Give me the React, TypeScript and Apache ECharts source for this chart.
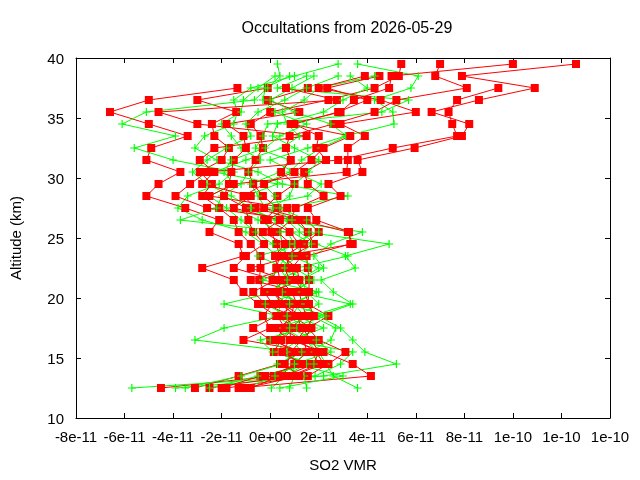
import { useEffect, useRef } from "react";
import * as echarts from "echarts";

// Altitude levels (km)
const ALTITUDES = [
  12.5, 13.5, 14.5, 15.5, 16.5, 17.5, 18.5, 19.5, 20.5, 21.5, 22.5, 23.5, 24.5, 25.5,
  26.5, 27.5, 28.5, 29.5, 30.5, 31.5, 32.5, 33.5, 34.5, 35.5, 36.5, 37.5, 38.5, 39.5,
];

// SO2 VMR values in units of 1e-11, one entry per altitude above (null = no point)
const R1 = [-4.5, 0.15, 1.0, 0.85, 1.3, 0.45, 0.85, 1.0, 0.6, 0.1, 0.25, 0.4, 0.25, 0.05, -0.25, 0.3, -0.3, -0.7, -0.9, -0.6, -0.3, -0.4, -0.8, 0, 2.4, 4.3, 5.3, 5.4];
const R2 = [-3.1, -1.3, 0.4, 1.3, 0, -0.7, 0.25, -0.5, -1.1, -1.5, -2.8, -1.1, -1.3, -2.5, -2.1, -3.5, -5.1, -4.6, -3.7, -5.1, -4.9, -3.4, -5.0, -6.6, -5.0, -1.35, null, null];
const R3 = [-2.5, 0.85, 2.0, 1.7, -1.1, 0, -0.3, 0.1, -0.25, -0.45, -0.4, -0.4, -0.8, -1.3, -1.5, -2.1, -2.8, -2.4, -2.9, -2.0, -1.7, -2.3, -2.4, -1.4, -3.0, -0.1, null, null];
const R4 = [-2.0, -0.4, 1.6, 0.15, 0.45, 1.0, 0.6, 0.75, 0.05, 0.6, -0.8, 1.0, 0.85, 0.3, 0.85, 1.05, 2.2, 1.55, 1.4, 2.3, 1.9, 2.0, 1.0, 2.8, 4.0, 2.35, 4.5, null];
const R5 = [-1.8, 1.55, 2.4, 3.1, 2.0, 1.55, 2.4, 1.55, 1.6, 1.6, 1.55, 1.5, 3.3, 3.25, 1.9, 1.55, 2.9, 2.4, 3.8, 3.6, 5.95, 7.9, 8.2, 6.65, 8.6, 10.9, 7.9, 12.6];
const R6 = [-1.3, 4.15, 3.4, 2.2, 0.85, 0.8, 1.5, 1.3, 1.2, -0.8, 0.85, 0.6, 1.4, 2.0, 1.5, -0.25, 0.3, 1.0, 0.45, 0.85, 0.65, 0.8, 2.6, 4.3, 5.2, 8.1, 6.8, 7.0];
const R7 = [-0.8, 0.4, 1.0, 1.5, 1.4, 1.7, 0.9, -0.2, -0.7, 0.2, -1.5, -1.0, -0.25, -0.7, -0.9, -1.0, -1.9, -1.7, -1.6, -1.5, -1.0, -1.1, -1.8, 1.2, -0.1, 1.55, null, null];
const R8 = [null, 0.6, 1.8, 2.0, 1.7, 1.3, 1.1, 0.4, 0.3, 0.8, 0.6, 0.85, 1.8, 1.55, 1.15, -0.6, -1.1, -0.25, 1.0, 1.7, 2.2, 3.3, 0.85, 2.9, 3.45, 4.9, 5.0, 10.0];
const R9 = [-1.0, 1.2, 0.6, 1.0, 0.2, 0.6, 0.3, 1.1, 0.9, 0.4, 0.3, 0.2, 0.6, -0.3, 0.4, -1.5, -0.8, -2.8, -2.3, -2.9, -2.3, 1.5, -3.0, -4.6, 2.75, 0.65, null, null];
const R10 = [null, -0.2, 1.3, 0.5, 0.8, 0.2, 1.3, 0.5, 0.1, 1.2, 1.1, 0.5, 3.4, 3.2, 1.2, -2.6, -3.9, -3.3, -2.6, 2.8, 5.05, 7.7, 7.5, 7.35, 7.7, 9.4, null, null];
const R11 = [null, 0.9, 2.2, 1.9, 1.1, 1.5, 1.8, 1.6, 1.4, 1.0, 0.9, 1.3, 1.2, 0.8, -0.1, 0.7, -2.5, -1.5, 3.15, 3.2, 3.2, 3.9, 2.9, 6.0, 4.55, 2.0, 3.9, null];

const G1 = [-5.7, 1.85, 2.9, 3.4, 0.8, 2.2, 1.1, 2.0, 1.5, 1.3, 2.2, 1.8, 2.5, 3.8, 0.3, -1.0, 1.55, 2.1, 1.0, 0.0, 1.55, 3.1, 5.1, 5.05, 4.3, 5.8, 6.1, 3.6];
const G2 = [-3.9, 2.2, 5.2, 3.9, 3.4, 2.9, 2.0, 3.4, 2.6, 2.1, 3.5, 3.1, 4.9, 1.5, 1.0, 0.6, 3.2, 0.5, -0.5, -2.2, -3.1, -2.7, -1.5, -1.35, -1.5, -0.8, 1.0, 2.8];
const G3 = [-3.5, -1.2, 0.5, 1.0, -3.1, -1.9, 0.4, -1.9, 0.2, 0.5, 0.8, 0.3, -0.3, -1.0, -2.8, -3.8, -3.4, -2.1, -1.5, -4.0, -5.6, -3.9, -6.1, -5.1, -0.65, -0.1, 0.4, 0.3];
const G4 = [0.05, 0.6, 1.5, 0.4, 1.2, 1.8, 1.4, 1.0, 1.9, 0.9, 1.1, 3.2, 1.9, 1.2, 0.7, -0.2, -0.5, -0.8, 0.4, 0.8, -0.6, -0.3, -0.1, 4.6, 5.7, 0.3, 1.5, null];
const G5 = [0.8, 1.0, 0.9, 1.6, 2.5, 2.7, 1.7, 3.3, 1.1, 1.6, 0.3, 0.7, 0.5, 0.4, -0.5, -1.5, -1.0, 0.3, -2.3, -1.0, 0.5, 1.2, 0.7, 0.5, 1.4, 2.0, 4.3, null];
const G6 = [3.6, 2.6, 2.3, 2.0, 1.4, 0.6, 0.9, 1.2, 0.5, 0.2, 1.6, 1.4, 1.0, 0.7, -3.7, -2.2, -2.0, -1.2, -0.9, -0.4, -1.2, -1.6, -2.0, -1.2, -1.1, -0.5, 0.2, null];
const G7 = [-1.0, 0.2, 1.2, 0.7, 0.0, 1.1, 0.2, 0.5, 0.9, 1.8, 1.0, 0.2, 0.8, 2.0, 1.5, 0.4, 0.2, -0.3, 0.8, 1.3, 2.1, 3.15, 2.5, 1.0, 0.0, 0.9, 1.8, null];
const G8 = [1.5, 1.4, 0.3, 1.3, 0.9, 0.3, 1.8, 1.5, 0.0, 0.7, 0.4, 1.2, 1.7, 0.9, 0.2, -0.8, -1.6, -2.6, -3.2, -2.6, -1.8, -0.8, -1.0, -0.5, 0.6, 1.5, 2.8, null];
const G9 = [-2.5, -0.5, 1.8, 0.1, -0.4, 1.5, 0.7, -0.2, 1.3, 1.2, 2.0, 0.9, 0.1, -0.6, -1.2, -1.8, -2.5, -1.5, -1.9, -1.6, -0.2, 0.4, 1.5, 0.2, -0.3, -0.2, 0.8, null];
const G10 = [0.4, 3.0, 1.0, 2.5, 1.9, 0.8, 2.3, 0.8, 2.0, -0.3, 0.6, -0.5, 1.3, 1.6, 0.9, 0.1, 0.8, 1.0, 1.6, 2.0, 1.0, 0.1, 0.3, 2.2, 3.0, 4.0, 3.3, null];

const RED_PROFILES = [R1, R2, R3, R4, R5, R6, R7, R8, R9, R10, R11];
const GREEN_PROFILES = [G1, G2, G3, G4, G5, G6, G7, G8, G9, G10];

const TITLE = "Occultations from 2026-05-29";
const X_NAME = "SO2 VMR";
const Y_NAME = "Altitude (km)";
const X_MIN = -8, X_MAX = 14, X_STEP = 2; // units of 1e-11
const Y_MIN = 10, Y_MAX = 40, Y_STEP = 5;

const FONT = "Liberation Sans, Arial, sans-serif";
const PLUS = "path://M3,0H4V3H7V4H4V7H3V4H0V3H3Z";

function toData(vals: (number | null)[]) {
  const out: number[][] = [];
  vals.forEach((v, i) => {
    if (v !== null) out.push([v, ALTITUDES[i]]);
  });
  return out;
}

function fmtX(v: number) {
  const r = Math.round(v * 1000) / 1000;
  if (r === 0) return "0e+00";
  const s = (r * 1e-11).toExponential(0);
  return s.replace(/e([+-])(\d)$/, "e$10$2");
}

export default function App() {
  const ref = useRef<HTMLDivElement>(null);
  useEffect(() => {
    if (!ref.current) return;
    const chart = echarts.init(ref.current, null, { renderer: "svg" });
    const series: any[] = [];
    const n = Math.max(RED_PROFILES.length, GREEN_PROFILES.length);
    for (let i = 0; i < n; i++) {
      if (RED_PROFILES[i]) {
        series.push({
          type: "line",
          name: "red" + i,
          data: toData(RED_PROFILES[i]),
          symbol: "rect",
          symbolSize: 8,
          showAllSymbol: true,
          lineStyle: { color: "#ff0000", width: 1 },
          itemStyle: { color: "#ff0000" },
          silent: true,
          emphasis: { disabled: true },
        });
      }
      if (GREEN_PROFILES[i]) {
        series.push({
          type: "line",
          name: "green" + i,
          data: toData(GREEN_PROFILES[i]),
          symbol: PLUS,
          symbolSize: 8,
          showAllSymbol: true,
          lineStyle: { color: "#00ff00", width: 1 },
          itemStyle: { color: "#00ff00" },
          silent: true,
          emphasis: { disabled: true },
        });
      }
    }
    const tickStyle = { inside: true, length: 5, lineStyle: { color: "#000", width: 1 } };
    const lineStyle = { show: true, onZero: false, lineStyle: { color: "#000", width: 1 } };
    chart.setOption({
      animation: false,
      title: {
        text: TITLE,
        left: 342,
        textAlign: "center",
        top: 14,
        textStyle: { fontFamily: FONT, fontSize: 16, fontWeight: "normal", color: "#000" },
      },
      grid: {
        left: 74,
        right: 30,
        top: 58,
        bottom: 62,
        show: false,
      },
      xAxis: [
        {
          type: "value",
          min: X_MIN,
          max: X_MAX,
          interval: X_STEP,
          position: "bottom",
          name: X_NAME,
          nameLocation: "middle",
          nameGap: 39,
          nameTextStyle: { fontFamily: FONT, fontSize: 15, color: "#000" },
          axisLine: lineStyle,
          axisTick: tickStyle,
          axisLabel: { formatter: fmtX, margin: 11, color: "#000", fontSize: 15, fontFamily: FONT },
          splitLine: { show: false },
        },
        {
          type: "value",
          min: X_MIN,
          max: X_MAX,
          interval: X_STEP,
          position: "top",
          axisLine: lineStyle,
          axisTick: tickStyle,
          axisLabel: { show: false },
          splitLine: { show: false },
        },
      ],
      yAxis: [
        {
          type: "value",
          min: Y_MIN,
          max: Y_MAX,
          interval: Y_STEP,
          position: "left",
          name: Y_NAME,
          nameLocation: "middle",
          nameGap: 53,
          nameTextStyle: { fontFamily: FONT, fontSize: 15, color: "#000" },
          axisLine: lineStyle,
          axisTick: tickStyle,
          axisLabel: { margin: 12, color: "#000", fontSize: 15, fontFamily: FONT },
          splitLine: { show: false },
        },
        {
          type: "value",
          min: Y_MIN,
          max: Y_MAX,
          interval: Y_STEP,
          position: "right",
          axisLine: lineStyle,
          axisTick: tickStyle,
          axisLabel: { show: false },
          splitLine: { show: false },
        },
      ],
      series,
    });
    return () => chart.dispose();
  }, []);
  return (
    <div
      ref={ref}
      style={{ position: "fixed", left: 0, top: 0, width: 640, height: 480 }}
    />
  );
}
